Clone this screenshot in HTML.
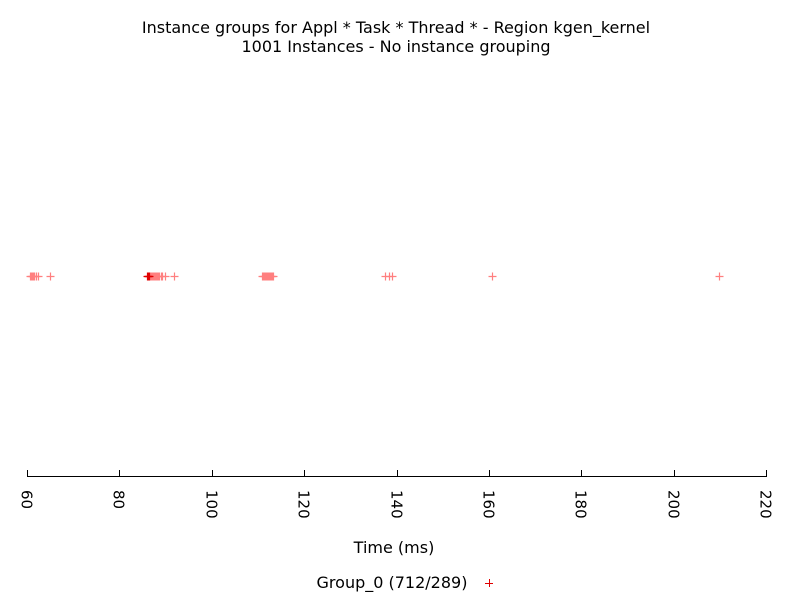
<!DOCTYPE html>
<html><head><meta charset="utf-8"><style>
body{margin:0;background:#fff;width:800px;height:600px;overflow:hidden}
svg text{font-family:"DejaVu Sans","Liberation Sans",sans-serif;font-size:16px;fill:#000}
svg text.tk{font-size:15px}
</style></head><body>
<svg id="chart" width="800" height="600">
<text x="396" y="33" text-anchor="middle">Instance groups for Appl * Task * Thread * - Region kgen_kernel</text>
<text x="396" y="52" text-anchor="middle">1001 Instances - No instance grouping</text>
<line x1="27" y1="476.5" x2="766" y2="476.5" stroke="#000"/>
<text x="394" y="553" text-anchor="middle">Time (ms)</text>
<text x="392" y="588" text-anchor="middle">Group_0 (712/289)</text>
<g><line x1="485" y1="583.5" x2="493" y2="583.5" stroke="#e00000"/><line x1="489.5" y1="579" x2="489.5" y2="587" stroke="#e00000"/></g>
<g id="ticks"></g><g id="points"></g>
</svg>
<script>
const ticks=[60,80,100,120,140,160,180,200,220];
const values=[60.6,60.8,61.0,61.2,61.3,61.5,61.6,61.9,62.3,65.0,86.7,86.9,87.0,87.2,87.4,87.6,87.8,88.0,88.2,88.4,88.6,89.0,89.3,89.9,91.8,110.9,111.1,111.3,111.5,111.7,111.9,112.1,112.3,112.5,112.7,112.9,113.1,113.3,137.5,138.4,139.1,160.7,209.8];
const denseValues=[86.0,86.2,86.3,86.5];
const yRow=276;
function xs(v){return 27+(v-60)*(766-27)/(220-60);}
const NS="http://www.w3.org/2000/svg";
const tg=document.getElementById('ticks');
ticks.forEach(t=>{
  const x=Math.round(xs(t))+0.5;
  const l=document.createElementNS(NS,'line');
  l.setAttribute('x1',x);l.setAttribute('x2',x);l.setAttribute('y1',470);l.setAttribute('y2',477);l.setAttribute('stroke','#000');
  
  
  tg.appendChild(l);
  const tx=document.createElementNS(NS,'text');
  tx.setAttribute('transform','translate('+(x-6)+',490) rotate(90)');
  tx.setAttribute('class','tk');
  tx.textContent=t;
  
  
  tg.appendChild(tx);
});
const pg=document.getElementById('points');
function plus(v,c){
  const x=Math.round(xs(v))+0.5,y=yRow+0.5;
  const p=document.createElementNS(NS,'path');
  p.setAttribute('d','M'+(x-4)+' '+y+'H'+(x+4)+'M'+x+' '+(y-4)+'V'+(y+4));
  p.setAttribute('stroke',c);p.setAttribute('stroke-width','1.2');
  
  
  pg.appendChild(p);
}
values.forEach(v=>plus(v,'#ff7f7f'));
denseValues.forEach(v=>plus(v,'#e00000'));
</script>
</body></html>
